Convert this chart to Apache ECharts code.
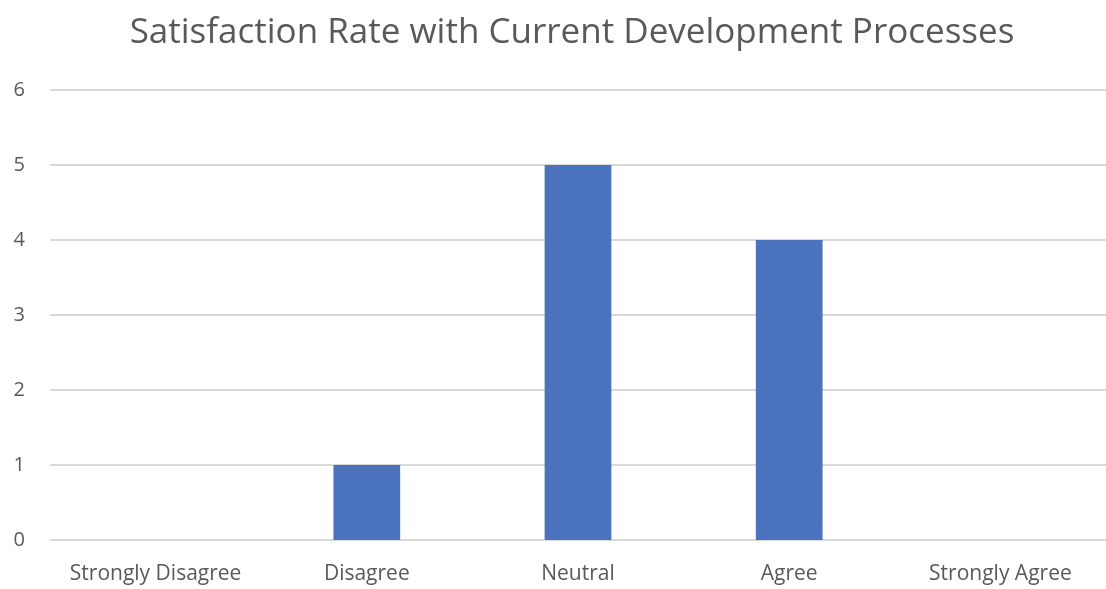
<!DOCTYPE html>
<html><head><meta charset="utf-8">
<script src="https://cdn.jsdelivr.net/npm/echarts@6/dist/echarts.min.js"></script>
<style>html,body{margin:0;padding:0;background:#fff}#c{width:1106px;height:589px}</style>
</head><body><div id="c"></div>
<script>
const categories = ['Strongly Disagree', 'Disagree', 'Neutral', 'Agree', 'Strongly Agree'];
const values = [0, 1, 5, 4, 0];
const chart = echarts.init(document.getElementById('c'), null, {renderer: 'canvas'});
chart.setOption({
  animation: false,
  title: {
    text: 'Satisfaction Rate with Current Development Processes',
    left: 567, top: 11, textAlign: 'center',
    textStyle: {fontFamily: 'Open Sans', fontSize: 35, fontWeight: 'normal', color: '#595959'}
  },
  grid: {left: 50, width: 1062, top: 90, height: 450, containLabel: false},
  xAxis: {
    type: 'category', data: categories,
    axisLine: {show: false}, axisTick: {show: false},
    axisLabel: {fontFamily: 'Open Sans', fontSize: 21, color: '#595959', margin: 24, interval: 0}
  },
  yAxis: {
    type: 'value', min: 0, max: 6, interval: 1,
    axisLine: {show: false}, axisTick: {show: false},
    axisLabel: {fontFamily: 'Open Sans', fontSize: 20, color: '#595959', margin: 25},
    splitLine: {lineStyle: {color: '#d9d9d9', width: 2}}
  },
  series: [{
    type: 'bar', data: values, barWidth: '31.6%',
    itemStyle: {color: '#4a72bd'}
  }]
});
</script></body></html>
